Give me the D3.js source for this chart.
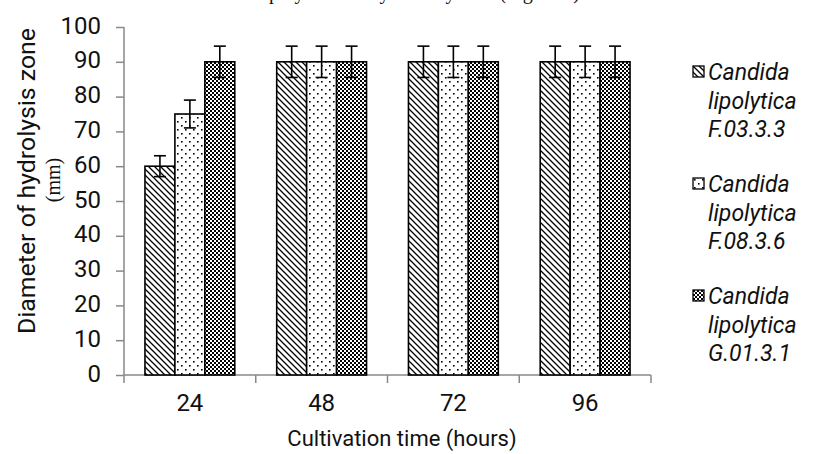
<!DOCTYPE html>
<html>
<head>
<meta charset="utf-8">
<script src="https://cdn.jsdelivr.net/npm/d3@7"></script>
<style>
  body { margin: 0; background: #fff; }
  svg { display: block; }
  text { font-family: Roboto, "Open Sans", sans-serif; fill: #111; }
</style>
</head>
<body>
<svg width="824" height="454"></svg>
<script>
'use strict';
// chart data
var hours = ['24', '48', '72', '96'];
var strains = ['Candida lipolytica F.03.3.3', 'Candida lipolytica F.08.3.6', 'Candida lipolytica G.01.3.1'];
var diameter = [
  [60, 90, 90, 90],
  [75, 90, 90, 90],
  [90, 90, 90, 90]
];
var errors = [
  [3, 4.5, 4.5, 4.5],
  [4, 4.5, 4.5, 4.5],
  [4.5, 4.5, 4.5, 4.5]
];
var yTicks = [0, 10, 20, 30, 40, 50, 60, 70, 80, 90, 100];

(() => {
  var svg = d3.select('svg');
  var left = 124, right = 651, top = 27, bottom = 375;

  var y = d3.scaleLinear().domain([0, 100]).range([bottom, top]);
  var x0 = d3.scaleBand().domain(hours).range([left, right]);
  var x1 = d3.scaleBand().domain(d3.range(strains.length))
    .range([0, x0.bandwidth()]).paddingOuter(0.7);

  // fill patterns
  var defs = svg.append('defs');
  var p1 = defs.append('pattern').attr('id', 'pat0')
    .attr('patternUnits', 'userSpaceOnUse').attr('width', 6).attr('height', 6);
  p1.append('rect').attr('width', 6).attr('height', 6).attr('fill', '#fff');
  p1.append('path').attr('d', 'M-1,-1L7,7M-4,2L2,8M2,-4L8,2')
    .attr('stroke', '#000').attr('stroke-width', 1.3);

  var p2 = defs.append('pattern').attr('id', 'pat1')
    .attr('patternUnits', 'userSpaceOnUse').attr('width', 8).attr('height', 8);
  p2.append('rect').attr('width', 8).attr('height', 8).attr('fill', '#fff');
  p2.append('rect').attr('x', 1).attr('y', 1).attr('width', 1.6).attr('height', 1.6).attr('fill', '#000');
  p2.append('rect').attr('x', 5).attr('y', 5).attr('width', 1.6).attr('height', 1.6).attr('fill', '#000');

  var p3 = defs.append('pattern').attr('id', 'pat2')
    .attr('patternUnits', 'userSpaceOnUse').attr('width', 4).attr('height', 4);
  p3.append('rect').attr('width', 4).attr('height', 4).attr('fill', '#fff');
  p3.append('rect').attr('width', 2).attr('height', 2).attr('fill', '#000');
  p3.append('rect').attr('x', 2).attr('y', 2).attr('width', 2).attr('height', 2).attr('fill', '#000');

  // cut-off caption line at the top (only descenders visible, as in the source)
  svg.append('text')
    .attr('x', 585).attr('y', -1)
    .attr('text-anchor', 'end')
    .style('font-family', '"Liberation Serif", serif')
    .style('font-size', '20px')
    .text('the lipolytic activity of the yeasts (Figure 3).');

  // y axis
  var gy = svg.append('g').attr('transform', `translate(${left},0)`)
    .call(d3.axisLeft(y).tickValues(yTicks).tickSize(8).tickPadding(15));
  gy.select('.domain').attr('stroke', '#888').attr('stroke-width', 1.5).attr('d', `M0,${top}V${bottom}`);
  gy.selectAll('.tick line').attr('stroke', '#888').attr('stroke-width', 1.5);
  gy.selectAll('.tick text')
    .style('font-size', '24px')
    .style('font-family', 'Roboto, sans-serif')
    .attr('fill', '#111').attr('dy', '0.25em');

  // x axis
  var gx = svg.append('g').attr('transform', `translate(0,${bottom})`);
  gx.append('line').attr('x1', left).attr('x2', right).attr('stroke', '#888').attr('stroke-width', 1.5);
  gx.selectAll('line.tk').data(hours.concat(['end'])).enter().append('line')
    .attr('class', 'tk')
    .attr('x1', (d, i) => i < hours.length ? x0(d) : right)
    .attr('x2', (d, i) => i < hours.length ? x0(d) : right)
    .attr('y1', 0).attr('y2', 8)
    .attr('stroke', '#888').attr('stroke-width', 1.5);
  gx.selectAll('text').data(hours).enter().append('text')
    .attr('x', d => x0(d) + x0.bandwidth() / 2)
    .attr('y', 36)
    .attr('text-anchor', 'middle')
    .style('font-size', '24px')
    .text(d => d);

  // bars
  var groups = svg.append('g').selectAll('g').data(strains).enter().append('g');
  groups.selectAll('rect').data((s, si) => hours.map((h, hi) => ({ si, h, v: diameter[si][hi], e: errors[si][hi] })))
    .enter().append('rect')
    .attr('x', d => x0(d.h) + x1(d.si))
    .attr('y', d => y(d.v))
    .attr('width', x1.bandwidth())
    .attr('height', d => y(0) - y(d.v))
    .attr('fill', d => `url(#pat${d.si})`)
    .attr('stroke', '#000').attr('stroke-width', 1.6);

  // error bars
  var eb = svg.append('g').attr('stroke', '#000').attr('stroke-width', 1.6);
  strains.forEach((s, si) => {
    hours.forEach((h, hi) => {
      var cx = x0(h) + x1(si) + x1.bandwidth() / 2;
      var v = diameter[si][hi], e = errors[si][hi];
      eb.append('line').attr('x1', cx).attr('x2', cx).attr('y1', y(v + e)).attr('y2', y(v - e));
      eb.append('line').attr('x1', cx - 6).attr('x2', cx + 6).attr('y1', y(v + e)).attr('y2', y(v + e));
      eb.append('line').attr('x1', cx - 6).attr('x2', cx + 6).attr('y1', y(v - e)).attr('y2', y(v - e));
    });
  });

  // axis titles
  svg.append('text')
    .attr('transform', 'translate(35,181) rotate(-90)')
    .attr('text-anchor', 'middle')
    .style('font-size', '23px')
    .attr('textLength', 306).attr('lengthAdjust', 'spacingAndGlyphs')
    .text('Diameter of hydrolysis zone');
  svg.append('text')
    .attr('transform', 'translate(60,180) rotate(-90)')
    .attr('text-anchor', 'middle')
    .style('font-family', '"Liberation Serif", serif')
    .style('font-size', '20px')
    .text('(mm)');
  svg.append('text')
    .attr('x', 402).attr('y', 446)
    .attr('text-anchor', 'middle')
    .style('font-size', '22px')
    .text('Cultivation time (hours)');

  // legend
  var lg = svg.append('g').selectAll('g').data(strains).enter().append('g')
    .attr('transform', (d, i) => `translate(693,${66 + i * 112})`);
  lg.append('rect').attr('width', 11).attr('height', 11)
    .attr('fill', (d, i) => `url(#pat${i})`)
    .attr('stroke', '#000').attr('stroke-width', 1.3);
  lg.each(function (d) {
    var words = d.split(' ');
    var t = d3.select(this).append('text')
      .attr('x', 15).attr('y', 14)
      .style('font-size', '23px').style('font-style', 'italic');
    words.forEach((w, wi) => {
      t.append('tspan').attr('x', 15).attr('dy', wi ? 28.5 : 0).text(w);
    });
  });
})();
</script>
</body>
</html>
